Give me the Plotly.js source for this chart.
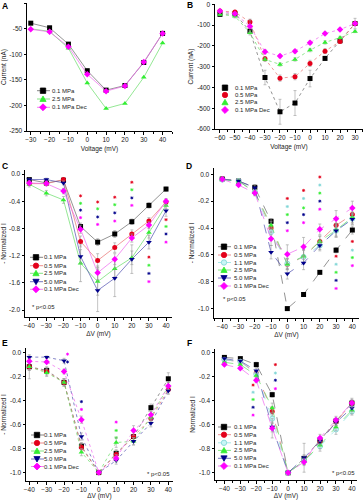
<!DOCTYPE html>
<html><head><meta charset="utf-8">
<script src="https://cdn.plot.ly/plotly-3.0.1.min.js"></script>
<style>html,body{margin:0;padding:0;background:#fff}#chart{width:364px;height:500px}</style>
</head><body><div id="chart"></div>
<script>
// ---------------- DATA ----------------
// Panel A : Current (nA) vs Voltage (mV)
const A_volt   = [-30,-20,-10,0,10,20,30,40];
const A_names  = ['0.1 MPa','2.5 MPa','0.1 MPa Dec'];
const A_01     = [-39,-48,-80,-132,-170,-161,-116,-59];
const A_25     = [-50,-55,-88,-156,-206,-196,-145,-78];
const A_01dec  = [-51,-56,-85,-139,-172,-162,-115,-59];

// Panel B : Current (nA) vs Voltage (mV)
const B_volt   = [-60,-50,-40,-30,-20,-10,0,10,20,30];
const B_names  = ['0.1 MPa','0.5 MPa','2.5 MPa','0.1 MPa Dec'];
const B_01     = [-48,-45,-129,-352,-517,-475,-357,-260,-175,-92];
const B_05     = [-32,-37,-85,-262,-355,-348,-284,-225,-179,-92];
const B_25     = [-48,-57,-137,-265,-289,-265,-220,-183,-160,-130];
const B_01dec  = [-32,-45,-105,-228,-249,-225,-185,-140,-121,-92];
const B_01err  = [8,8,12,35,60,60,40,10,8,8];
const B_05err  = [6,6,14,10,15,15,15,12,8,8];
const B_25err  = [6,8,10,8,8,8,8,8,6,6];
const B_01decErr = [6,6,30,10,8,8,8,6,6,25];

// Panel C : - Normalized I vs dV (mV)
const C_volt   = [-40,-30,-20,-10,0,10,20,30,40];
const C_names  = ['0.1 MPa','0.5 MPa','2.5 MPa','5.0 MPa','0.1 MPa Dec'];
const C_01     = [-0.08,-0.13,-0.09,-0.77,-1.00,-0.88,-0.70,-0.46,-0.22];
const C_05     = [-0.14,-0.14,-0.08,-0.99,-1.27,-1.08,-0.88,-0.69,-0.41];
const C_25     = [-0.15,-0.28,-0.38,-1.31,-1.58,-1.39,-1.23,-0.86,-0.46];
const C_50     = [-0.08,-0.08,-0.13,-1.21,-1.71,-1.53,-1.25,-1.00,-0.54];
const C_01dec  = [-0.13,-0.14,-0.25,-0.81,-1.45,-1.25,-0.94,-0.75,-0.40];
const C_01err  = [0.02,0.02,0.02,0.05,0.05,0.05,0.04,0.04,0.03];
const C_05err  = [0.03,0.03,0.03,0.08,0.10,0.07,0.06,0.05,0.04];
const C_25err  = [0.04,0.04,0.05,0.27,0.20,0.12,0.10,0.08,0.05];
const C_50err  = [0.02,0.02,0.03,0.10,0.31,0.27,0.21,0.10,0.08];
const C_01decErr = [0.03,0.03,0.04,0.06,0.10,0.08,0.06,0.05,0.04];
const C_sigX   = [-10,0,10,20,30,40];
const C_sig05  = [-0.32,-0.41,-0.34,-0.12,-1.22,-0.67];
const C_sig25  = [-0.43,-0.51,-0.45,-0.23,-1.34,-0.77];
const C_sig50  = [-0.53,-0.63,-0.57,-0.35,-1.46,-0.88];
const C_sigDec = [-0.64,-0.74,-0.69,-0.46,-1.58,-1.00];

// Panel D
const D_volt   = [-40,-30,-20,-10,0,10,20,30,40];
const D_names  = ['0.1 MPa','0.5 MPa','1.1 MPa','2.5 MPa','5.0 MPa','0.1 MPa Dec'];
const D_01     = [-0.035,-0.05,-0.097,-0.35,-1.00,-0.895,-0.73,-0.565,-0.415];
const D_05     = [-0.035,-0.05,-0.13,-0.40,-0.67,-0.615,-0.50,-0.38,-0.30];
const D_11     = [-0.04,-0.05,-0.13,-0.43,-0.665,-0.615,-0.53,-0.42,-0.33];
const D_25     = [-0.04,-0.05,-0.135,-0.38,-0.67,-0.61,-0.50,-0.415,-0.32];
const D_50     = [-0.035,-0.05,-0.10,-0.58,-0.74,-0.66,-0.53,-0.42,-0.335];
const D_01dec  = [-0.037,-0.08,-0.14,-0.48,-0.595,-0.54,-0.41,-0.33,-0.25];
const D_01err  = [0.01,0.01,0.02,0.02,0.01,0.01,0.01,0.02,0.03];
const D_05err  = [0.01,0.01,0.02,0.05,0.04,0.05,0.04,0.05,0.04];
const D_11err  = [0.01,0.01,0.02,0.05,0.04,0.05,0.04,0.05,0.04];
const D_25err  = [0.01,0.01,0.02,0.05,0.04,0.05,0.04,0.05,0.04];
const D_50err  = [0.01,0.01,0.02,0.05,0.04,0.05,0.03,0.04,0.04];
const D_01decErr = [0.01,0.01,0.02,0.05,0.07,0.07,0.04,0.06,0.05];
const D_sigX   = [0,10,20,30,40];
const D_sig05  = [-0.18,-0.12,-0.02,-0.61,-0.50];
const D_sig11  = [-0.24,-0.18,-0.08,-0.67,-0.565];
const D_sig25  = [-0.30,-0.25,-0.14,-0.73,-0.62];
const D_sig50  = [-0.36,-0.30,-0.20,-0.79,null];
const D_sigDec = [-0.42,-0.36,-0.26,-0.85,-0.68];

// Panel E
const E_volt   = [-40,-30,-20,-10,0,10,20,30,40];
const E_names  = ['0.1 MPa','0.5 MPa','2.5 MPa','5.0 MPa','0.1 MPa Dec'];
const E_01     = [-0.12,-0.15,-0.25,-0.78,-1.00,-0.84,-0.70,-0.46,-0.22];
const E_05     = [-0.12,-0.16,-0.25,-0.79,-1.00,-0.85,-0.70,-0.55,-0.31];
const E_25     = [-0.12,-0.17,-0.25,-0.83,-1.00,-0.75,-0.74,-0.54,-0.28];
const E_50     = [-0.04,-0.04,-0.07,-0.70,-1.00,-0.90,-0.74,-0.59,-0.32];
const E_01dec  = [-0.075,-0.08,-0.16,-0.56,-1.00,-0.88,-0.65,-0.52,-0.28];
const E_01err  = [0.10,0.03,0.03,0.03,0.01,0.03,0.03,0.03,0.05];
const E_05err  = [0.03,0.03,0.03,0.03,0.01,0.03,0.05,0.03,0.03];
const E_25err  = [0.03,0.03,0.03,0.03,0.01,0.04,0.03,0.03,0.03];
const E_50err  = [0.01,0.01,0.02,0.03,0.01,0.03,0.03,0.03,0.03];
const E_01decErr = [0.01,0.01,0.02,0.03,0.01,0.03,0.04,0.03,0.03];
const E_sigX   = [-18,-18,-10,-10,10,10,10];
const E_sigY   = [-0.015,-0.08,-0.41,-0.475,-0.58,-0.65,-0.71];
const E_sigC   = ['#ff00ff','#00008b','#00008b','#ff00ff','#ff00ff','#33ee33','#33ee33'];

// Panel F
const F_volt   = [-40,-30,-20,-10,0,10,20,30,40];
const F_names  = ['0.1 MPa','0.5 MPa','1.1 MPa','2.5 MPa','5.0 MPa','0.1 MPa Dec'];
const F_01     = [-0.04,-0.05,-0.10,-0.35,-1.00,-0.88,-0.73,-0.57,-0.42];
const F_05     = [-0.06,-0.075,-0.17,-0.49,-1.00,-0.90,-0.74,-0.575,-0.42];
const F_11     = [-0.06,-0.075,-0.18,-0.55,-1.00,-0.90,-0.78,-0.64,-0.49];
const F_25     = [-0.08,-0.10,-0.19,-0.46,-1.00,-0.90,-0.77,-0.62,-0.48];
const F_50     = [-0.05,-0.07,-0.15,-0.62,-1.00,-0.875,-0.74,-0.58,-0.46];
const F_01dec  = [-0.10,-0.13,-0.23,-0.63,-1.00,-0.91,-0.71,-0.56,-0.42];
const F_01err  = [0.01,0.01,0.02,0.02,0.01,0.03,0.02,0.02,0.02];
const F_05err  = [0.01,0.01,0.02,0.04,0.01,0.03,0.03,0.03,0.03];
const F_11err  = [0.01,0.01,0.02,0.04,0.01,0.03,0.04,0.04,0.03];
const F_25err  = [0.01,0.01,0.02,0.04,0.01,0.03,0.03,0.03,0.03];
const F_50err  = [0.01,0.01,0.02,0.04,0.01,0.12,0.03,0.03,0.03];
const F_01decErr = [0.01,0.01,0.02,0.08,0.01,0.03,0.03,0.03,0.04];
const F_sigXa  = [-22,-22,-22,-22,-22];
const F_sigYa  = [-0.27,-0.33,-0.39,-0.455,-0.52];
const F_sigCa  = ['#e3001b','#7fd6d6','#33ee33','#00008b','#ff00ff'];
const F_sigXb  = [-8,-8,-8,-8];
const F_sigYb  = [-0.10,-0.17,-0.23,-0.30];
const F_sigCb  = ['#e3001b','#7fd6d6','#00008b','#ff00ff'];

// ---------------- STYLE ----------------
const STYLE = {
  '0.1 MPa':     {color:'#000000', symbol:'square',        line:'#666666'},
  '0.5 MPa':     {color:'#e3001b', symbol:'circle',        line:'#e87070'},
  '1.1 MPa':     {color:'#c8f6f6', symbol:'circle',        line:'#8fe3e3', outline:'#7fd6d6'},
  '2.5 MPa':     {color:'#33ee33', symbol:'triangle-up',   line:'#66dd66'},
  '5.0 MPa':     {color:'#00008b', symbol:'triangle-down', line:'#5050b0'},
  '0.1 MPa Dec': {color:'#ff00ff', symbol:'diamond',       line:'#ee66ee'}
};
const W = 364, H = 500;
const px = x => x / W, py = y => 1 - y / H;
const FONT = 'Liberation Sans, Arial, sans-serif';

const traces = [];
function addSeries(ax, xs, ys, name, errs, dash) {
  const s = STYLE[name];
  traces.push({
    type:'scatter', mode:'lines+markers', x: xs, y: ys, name: name,
    xaxis:'x'+ax, yaxis:'y'+ax, showlegend:false, hoverinfo:'skip',
    line:{color:s.line, width:0.7, dash: dash || 'solid'},
    marker:{symbol:s.symbol, size:5, color:s.color, line:{color:s.outline || s.color, width:s.outline?0.8:0}},
    error_y: errs ? {type:'data', array: errs, visible:true, color:'#9a9a9a', thickness:0.6, width:1.5} : {visible:false}
  });
}
function addSig(ax, xs, ys, colors) {
  traces.push({
    type:'scatter', mode:'markers', x: xs, y: ys, xaxis:'x'+ax, yaxis:'y'+ax,
    showlegend:false, hoverinfo:'skip',
    marker:{symbol:'asterisk-open', size:2.6, color:colors, line:{color:colors, width:0.8}}
  });
}

// Panel A
addSeries('', A_volt, A_01, A_names[0], null);
addSeries('', A_volt, A_25, A_names[1], null);
addSeries('', A_volt, A_01dec, A_names[2], null);
// Panel B
addSeries('2', B_volt, B_01, B_names[0], B_01err, 'dot');
addSeries('2', B_volt, B_05, B_names[1], B_05err, 'dot');
addSeries('2', B_volt, B_25, B_names[2], B_25err, 'dot');
addSeries('2', B_volt, B_01dec, B_names[3], B_01decErr, 'dot');
// Panel C
addSig('3', C_sigX, C_sig05, STYLE['0.5 MPa'].color);
addSig('3', C_sigX, C_sig25, STYLE['2.5 MPa'].color);
addSig('3', C_sigX, C_sig50, STYLE['5.0 MPa'].color);
addSig('3', C_sigX, C_sigDec, STYLE['0.1 MPa Dec'].color);
addSeries('3', C_volt, C_01, C_names[0], C_01err);
addSeries('3', C_volt, C_05, C_names[1], C_05err);
addSeries('3', C_volt, C_25, C_names[2], C_25err);
addSeries('3', C_volt, C_50, C_names[3], C_50err);
addSeries('3', C_volt, C_01dec, C_names[4], C_01decErr);
// Panel D
addSig('4', D_sigX, D_sig05, STYLE['0.5 MPa'].color);
addSig('4', D_sigX, D_sig11, STYLE['1.1 MPa'].outline);
addSig('4', D_sigX, D_sig25, STYLE['2.5 MPa'].color);
addSig('4', D_sigX, D_sig50, STYLE['5.0 MPa'].color);
addSig('4', D_sigX, D_sigDec, STYLE['0.1 MPa Dec'].color);
addSeries('4', D_volt, D_01, D_names[0], D_01err, 'dash');
addSeries('4', D_volt, D_05, D_names[1], D_05err, 'dash');
addSeries('4', D_volt, D_11, D_names[2], D_11err, 'dash');
addSeries('4', D_volt, D_25, D_names[3], D_25err, 'dash');
addSeries('4', D_volt, D_50, D_names[4], D_50err, 'dash');
addSeries('4', D_volt, D_01dec, D_names[5], D_01decErr, 'dash');
// Panel E
addSig('5', E_sigX, E_sigY, E_sigC);
addSeries('5', E_volt, E_01, E_names[0], E_01err, 'dot');
addSeries('5', E_volt, E_05, E_names[1], E_05err, 'dot');
addSeries('5', E_volt, E_25, E_names[2], E_25err, 'dot');
addSeries('5', E_volt, E_50, E_names[3], E_50err, 'dot');
addSeries('5', E_volt, E_01dec, E_names[4], E_01decErr, 'dot');
// Panel F
addSig('6', F_sigXa, F_sigYa, F_sigCa);
addSig('6', F_sigXb, F_sigYb, F_sigCb);
addSeries('6', F_volt, F_01, F_names[0], F_01err, 'dash');
addSeries('6', F_volt, F_05, F_names[1], F_05err, 'dash');
addSeries('6', F_volt, F_11, F_names[2], F_11err, 'dash');
addSeries('6', F_volt, F_25, F_names[3], F_25err, 'dash');
addSeries('6', F_volt, F_50, F_names[4], F_50err, 'dash');
addSeries('6', F_volt, F_01dec, F_names[5], F_01decErr, 'dash');

// ---------------- AXES ----------------
function xax(domain, range, title, dtick, standoff) {
  return {domain: domain.map(px), range: range, showline:true, linecolor:'#000', linewidth:1,
    ticks:'outside', ticklen:2.5, tickwidth:1, tickcolor:'#000', showgrid:false, zeroline:false,
    dtick: dtick, tick0: 0, tickfont:{family:FONT, size:6.5, color:'#222'},
    minor:{ticks:'outside', ticklen:1.5, tickcolor:'#000', dtick: dtick/2},
    title:{text:title, font:{family:FONT, size:6.5, color:'#222'}, standoff: standoff},
    fixedrange:true, automargin:false};
}
function yax(domain, range, title, tickvals, ticktext, standoff) {
  return {domain: domain.map(y=>py(y)).reverse(), range: range, showline:true, linecolor:'#000', linewidth:1,
    ticks:'outside', ticklen:2.5, tickwidth:1, tickcolor:'#000', showgrid:false, zeroline:false,
    tickmode:'array', tickvals: tickvals, ticktext: ticktext,
    tickfont:{family:FONT, size:6.5, color:'#222'},
    title:{text:title, font:{family:FONT, size:6.5, color:'#222'}, standoff: standoff},
    fixedrange:true, automargin:false};
}
const yA = [0,-50,-100,-150,-200,-250];
const yB = [0,-100,-200,-300,-400,-500,-600];
const yC = [0,-0.4,-0.8,-1.2,-1.6,-2.0];
const yN = [0,-0.2,-0.4,-0.6,-0.8,-1.0];
const fmt1 = v => (v===0 ? '0.0' : v.toFixed(1));

const layout = {
  width: W, height: H, margin:{l:0,r:0,t:0,b:0},
  paper_bgcolor:'#fff', plot_bgcolor:'rgba(0,0,0,0)', showlegend:false,
  font:{family:FONT, size:6.5, color:'#222'},
  xaxis:  xax([27,172],  [-32,45],      'Voltage (mV)', 10, 4),
  yaxis:  yax([3,131],   [-250,0.5],    'Current (nA)', yA, yA.map(String), 2),
  xaxis2: xax([215,363], [-63.3,35.3],  'Voltage (mV)', 10, 4),
  yaxis2: yax([4,129],   [-600,2],      'Current (nA)', yB, yB.map(String), 2),
  xaxis3: xax([25,172],  [-42.5,43.5],  '\u0394V (mV)', 10, 3),
  yaxis3: yax([170,317], [-2.10,0.06],  '- Normalized I', yC, yC.map(fmt1), 2),
  xaxis4: xax([214,359], [-45.1,44.1],  '\u0394V (mV)', 10, 3),
  yaxis4: yax([168,318], [-1.07,0.047], '- Normalized I', yN, yN.map(fmt1), 2),
  xaxis5: xax([26,173],  [-41.9,42.7],  '\u0394V (mV)', 10, 2),
  yaxis5: yax([348,481], [-1.07,0.036], '- Normalized I', yN, yN.map(fmt1), 2),
  xaxis6: xax([215,357], [-45.9,43.2],  '\u0394V (mV)', 10, 2),
  yaxis6: yax([349,480], [-1.06,0.03],  'Normalized I', yN, yN.map(fmt1), 2),
  annotations: [], shapes: []
};
['','2','3','4','5','6'].forEach(k => { layout['xaxis'+k].anchor = 'y'+k; layout['yaxis'+k].anchor = 'x'+k; });

// ---------------- LEGENDS / LABELS ----------------
// legend sample markers drawn as paper-space shapes
function markerShape(symbol, cx, cy, r, fill, edge) {
  const X = v => px(v), Y = v => py(v);
  const base = {xref:'paper', yref:'paper', fillcolor: fill, line:{color: edge, width: 0.8}, layer:'above'};
  if (symbol === 'square') return Object.assign(base, {type:'rect', x0:X(cx-r), x1:X(cx+r), y0:Y(cy-r), y1:Y(cy+r)});
  if (symbol === 'circle') return Object.assign(base, {type:'circle', x0:X(cx-r), x1:X(cx+r), y0:Y(cy-r), y1:Y(cy+r)});
  let pts;
  if (symbol === 'triangle-up')   pts = [[cx, cy-r*1.1],[cx+r*1.15, cy+r*0.9],[cx-r*1.15, cy+r*0.9]];
  if (symbol === 'triangle-down') pts = [[cx, cy+r*1.1],[cx+r*1.15, cy-r*0.9],[cx-r*1.15, cy-r*0.9]];
  if (symbol === 'diamond')       pts = [[cx, cy-r*1.3],[cx+r*1.3, cy],[cx, cy+r*1.3],[cx-r*1.3, cy]];
  const path = 'M ' + pts.map(p => X(p[0]) + ',' + Y(p[1])).join(' L ') + ' Z';
  return Object.assign(base, {type:'path', path: path});
}
function legend(names, mx, ys, tx, withLine) {
  names.forEach((n, i) => {
    const s = STYLE[n];
    if (withLine) layout.shapes.push({type:'line', xref:'paper', yref:'paper', layer:'above',
      x0:px(mx-6), x1:px(mx+7), y0:py(ys[i]), y1:py(ys[i]), line:{color:s.line, width:0.8}});
    layout.shapes.push(markerShape(s.symbol, mx, ys[i], 2.7, s.color, s.outline || s.color));
    layout.annotations.push({xref:'paper', yref:'paper', x:px(tx), y:py(ys[i]), showarrow:false,
      text:n, font:{family:FONT, size:6, color:'#222'}, xanchor:'left', yanchor:'middle',
      borderpad:0, borderwidth:0});
  });
}
legend(A_names, 43, [90.7,99,107.3], 52, true);
legend(B_names, 225, [87.7,95,102.3,110], 235, false);
legend(C_names, 36, [257.3,265.7,273.3,281.7,289.3], 44, true);
legend(D_names, 224, [246.7,255,262.5,270,278,286], 233.5, true);
legend(E_names, 37, [435,443,451,459,466.5], 44, true);
legend(F_names, 224, [427,434.7,442.8,450.4,458.3,466], 233.5, true);

function note(text, x, y, anchor) {
  layout.annotations.push({xref:'paper', yref:'paper', x:px(x), y:py(y), showarrow:false,
    text:text, font:{family:FONT, size:6, color:'#222'}, xanchor:anchor, yanchor:'middle',
    borderpad:0, borderwidth:0});
}
note('* p<0.05', 32, 307, 'left');
note('* p<0.05', 223, 299, 'left');
note('* p<0.05', 170, 474, 'right');
note('* p<0.05', 355, 473, 'right');

function panel(letter, x, y) {
  layout.annotations.push({xref:'paper', yref:'paper', x:px(x), y:py(y), showarrow:false,
    text:'<b>'+letter+'</b>', font:{family:FONT, size:8.5, color:'#000'}, xanchor:'left', yanchor:'middle',
    borderpad:0, borderwidth:0});
}
panel('A', 2, 6); panel('B', 187, 5); panel('C', 2, 166);
panel('D', 186, 166); panel('E', 2, 343); panel('F', 187, 343);

Plotly.newPlot('chart', traces, layout, {staticPlot:true, displayModeBar:false});
</script>
</body></html>
